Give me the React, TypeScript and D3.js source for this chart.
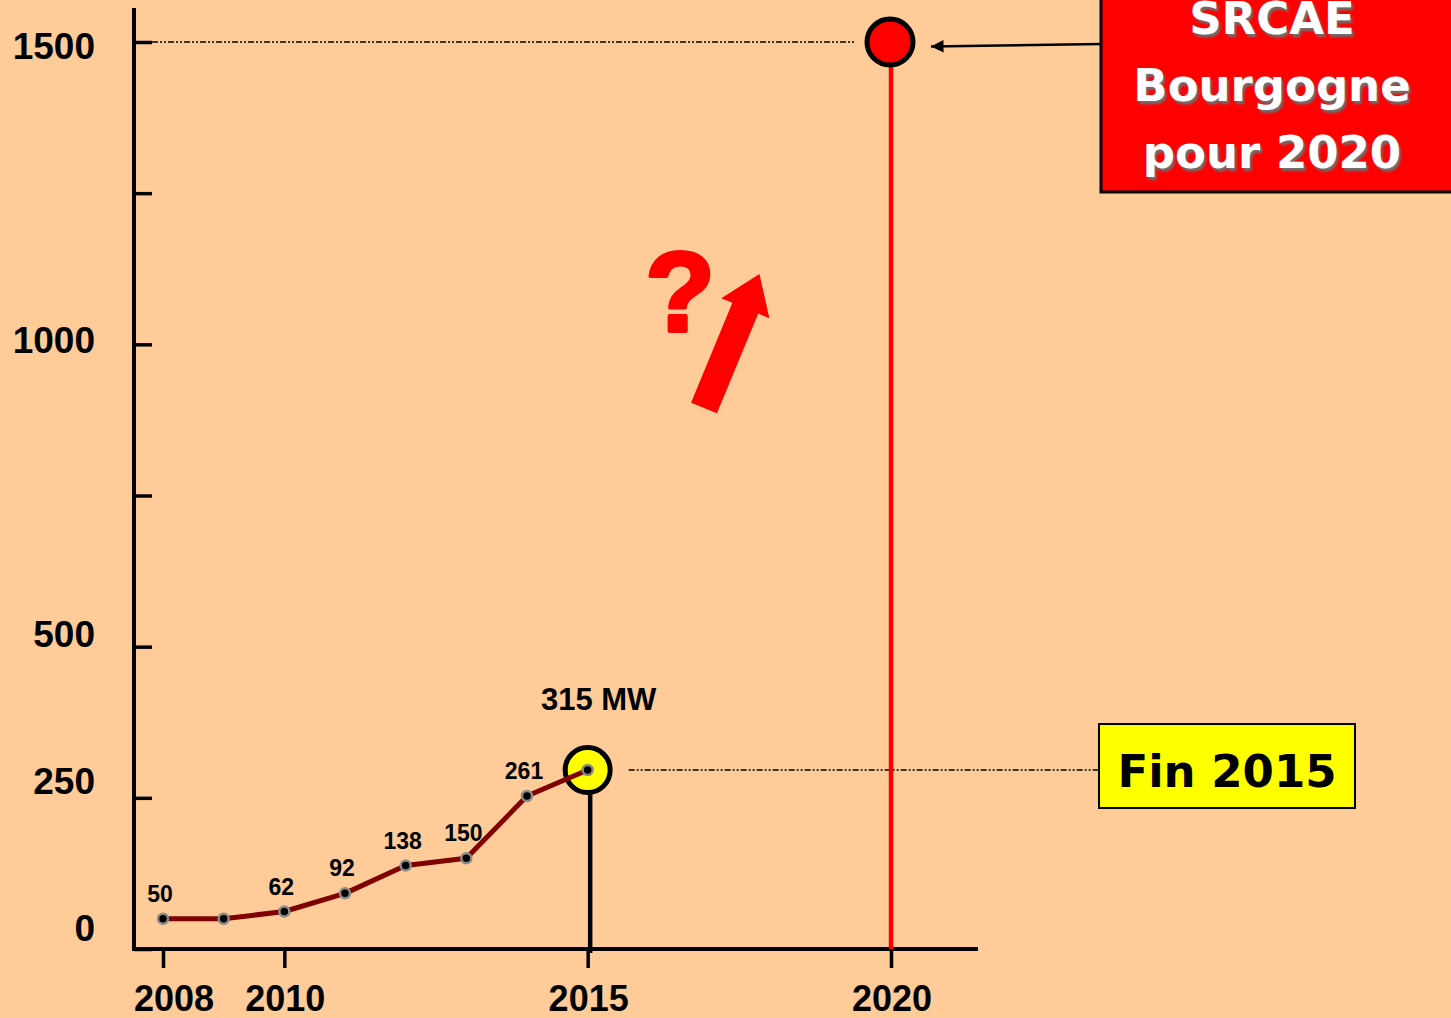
import {useEffect, useRef} from "react";
import * as d3 from 'd3';

// installed capacity (MW)
const years = [2008, 2009, 2010, 2011, 2012, 2013, 2014, 2015];
const capacity = [50, 50, 62, 92, 138, 150, 253, 296];
const pointLabels = ["50", "", "62", "92", "138", "150", "261", ""];

const yTicks = [0, 250, 500, 750, 1000, 1250, 1500];
const yLabels = [0, 250, 500, 1000, 1500];
const xTicks = [2008, 2010, 2015, 2020];

const currentYear = 2015;
const currentValue = 296;
const currentLabel = "315 MW";
const currentTag = "Fin 2015";

const targetYear = 2020;
const targetValue = 1500;
const targetLines = ["SRCAE", "Bourgogne", "pour 2020"];

const W = 1451;
const H = 1018;
const BG = '#FFCC99';
const SANS = '"Liberation Sans", Arial, sans-serif';
const WIDE = '"DejaVu Sans", Verdana, sans-serif';

export default function App() {
  const svgRef = useRef<SVGSVGElement>(null);

  useEffect(() => {
    const svg = d3.select(svgRef.current);
    svg.selectAll('*').remove();

    const axisX = 134;
    const axisY = 949;
    const axisEnd = 978;

    const x = d3.scaleLinear().domain([2008, 2020]).range([163, 891]);
    const y = d3.scaleLinear().domain([0, 1500]).range([axisY, 42]);
    // the value labels of the original sit on a slightly shifted scale
    const yLab = d3.scaleLinear().domain([0, 1500]).range([axisY - 21, 46]);

    svg.append('rect').attr('width', W).attr('height', H).attr('fill', BG);

    const defs = svg.append('defs');
    defs.append('marker')
      .attr('id', 'arrowhead')
      .attr('viewBox', '0 0 10 10')
      .attr('refX', 10).attr('refY', 5)
      .attr('markerWidth', 6).attr('markerHeight', 5)
      .attr('markerUnits', 'strokeWidth')
      .attr('orient', 'auto')
      .append('path').attr('d', 'M0,0 L10,5 L0,10 Z').attr('fill', '#000');
    defs.append('filter').attr('id', 'soft')
      .append('feGaussianBlur').attr('stdDeviation', 1);

    // guide lines (dash-dot-dot)
    svg.append('line')
      .attr('x1', axisX + 18).attr('x2', x(targetYear) - 37)
      .attr('y1', y(targetValue)).attr('y2', y(targetValue))
      .attr('stroke', '#000').attr('stroke-width', 1.3)
      .attr('stroke-dasharray', '6 2 2 2 2 2');
    svg.append('line')
      .attr('x1', x(currentYear) + 41).attr('x2', 1099)
      .attr('y1', y(currentValue)).attr('y2', y(currentValue))
      .attr('stroke', '#000').attr('stroke-width', 1.3)
      .attr('stroke-dasharray', '6 2 2 2 2 2');

    // y axis
    const yAxis = d3.axisRight(y).tickValues(yTicks).tickSize(18).tickFormat(() => '');
    const gy = svg.append('g').attr('transform', `translate(${axisX},0)`).call(yAxis);
    gy.select('.domain').remove();
    gy.selectAll('line').attr('stroke', '#000').attr('stroke-width', 3.5);
    svg.append('line')
      .attr('x1', axisX).attr('x2', axisX).attr('y1', 8).attr('y2', axisY + 2)
      .attr('stroke', '#000').attr('stroke-width', 4);
    svg.append('g').selectAll('text').data(yLabels).join('text')
      .attr('x', 95).attr('y', d => yLab(d))
      .attr('dy', '0.36em')
      .attr('text-anchor', 'end')
      .attr('font-family', SANS).attr('font-weight', 'bold').attr('font-size', 37)
      .attr('fill', '#000')
      .text(d => d);

    // x axis
    const xAxis = d3.axisBottom(x).tickValues(xTicks).tickSize(19).tickFormat(() => '');
    const gx = svg.append('g').attr('transform', `translate(0,${axisY})`).call(xAxis);
    gx.select('.domain').remove();
    gx.selectAll('line').attr('stroke', '#000').attr('stroke-width', 3.5);
    svg.append('line')
      .attr('x1', axisX - 2).attr('x2', axisEnd).attr('y1', axisY).attr('y2', axisY)
      .attr('stroke', '#000').attr('stroke-width', 4);
    svg.append('g').selectAll('text').data(xTicks).join('text')
      .attr('x', d => Math.max(x(d) + 1, axisX + 40))
      .attr('y', 1011)
      .attr('text-anchor', 'middle')
      .attr('font-family', SANS).attr('font-weight', 'bold').attr('font-size', 36)
      .attr('fill', '#000')
      .text(d => d);

    // 2020 target stem + marker
    svg.append('line')
      .attr('x1', x(targetYear)).attr('x2', x(targetYear))
      .attr('y1', y(targetValue)).attr('y2', axisY)
      .attr('stroke', '#FF0000').attr('stroke-width', 4.5);
    svg.append('circle')
      .attr('cx', x(targetYear) - 1).attr('cy', y(targetValue)).attr('r', 23)
      .attr('fill', '#FF0000').attr('stroke', '#000').attr('stroke-width', 5);

    // 2015 stem
    svg.append('line')
      .attr('x1', x(currentYear) + 2.5).attr('x2', x(currentYear) + 2.5)
      .attr('y1', y(currentValue)).attr('y2', axisY + 4)
      .attr('stroke', '#000').attr('stroke-width', 4.5);
    svg.append('circle')
      .attr('cx', x(currentYear)).attr('cy', y(currentValue)).attr('r', 22.5)
      .attr('fill', '#FFFF00').attr('stroke', '#000').attr('stroke-width', 5);

    // capacity line
    const line = d3.line<number>()
      .x((_, i) => x(years[i]))
      .y(d => y(d));
    svg.append('path')
      .datum(capacity)
      .attr('fill', 'none')
      .attr('stroke', '#800000')
      .attr('stroke-width', 5)
      .attr('stroke-linejoin', 'round')
      .attr('d', line);

    svg.append('g').selectAll('circle').data(capacity).join('circle')
      .attr('cx', (_, i) => x(years[i]))
      .attr('cy', d => y(d))
      .attr('r', 5)
      .attr('fill', '#000')
      .attr('stroke', '#8a8a8a')
      .attr('stroke-width', 2.5);

    svg.append('g').selectAll('text').data(capacity).join('text')
      .attr('x', (_, i) => x(years[i]) - 3)
      .attr('y', d => y(d) - 17)
      .attr('text-anchor', 'middle')
      .attr('font-family', SANS).attr('font-weight', 'bold').attr('font-size', 23)
      .attr('fill', '#000')
      .text((_, i) => pointLabels[i]);

    svg.append('text')
      .attr('x', x(currentYear) + 11).attr('y', y(currentValue) - 60)
      .attr('text-anchor', 'middle')
      .attr('font-family', SANS).attr('font-weight', 'bold').attr('font-size', 31)
      .attr('fill', '#000')
      .text(currentLabel);

    // "Fin 2015" tag
    const tag = svg.append('g');
    tag.append('rect')
      .attr('x', 1099).attr('y', y(currentValue) - 46)
      .attr('width', 256).attr('height', 84)
      .attr('fill', '#FFFF00').attr('stroke', '#000').attr('stroke-width', 2);
    tag.append('text')
      .attr('x', 1227).attr('y', y(currentValue) + 17)
      .attr('text-anchor', 'middle')
      .attr('font-family', WIDE).attr('font-weight', 'bold').attr('font-size', 45)
      .attr('fill', '#000')
      .text(currentTag);

    // SRCAE box
    const box = svg.append('g');
    box.append('rect')
      .attr('x', 1101).attr('y', -10)
      .attr('width', 370).attr('height', 202)
      .attr('fill', '#FF0000').attr('stroke', '#000').attr('stroke-width', 3);
    box.append('line')
      .attr('x1', 1101).attr('x2', 931)
      .attr('y1', 44).attr('y2', 46.5)
      .attr('stroke', '#000').attr('stroke-width', 2.5)
      .attr('marker-end', 'url(#arrowhead)');
    targetLines.forEach((t, i) => {
      const by = 34 + i * 67;
      box.append('text')
        .attr('x', 1274).attr('y', by + 2.5)
        .attr('text-anchor', 'middle')
        .attr('font-family', WIDE).attr('font-weight', 'bold').attr('font-size', 45)
        .attr('fill', '#6e6e6e').attr('filter', 'url(#soft)')
        .text(t);
      box.append('text')
        .attr('x', 1272).attr('y', by)
        .attr('text-anchor', 'middle')
        .attr('font-family', WIDE).attr('font-weight', 'bold').attr('font-size', 45)
        .attr('fill', '#fff')
        .text(t);
    });

    // question mark and up arrow
    svg.append('text')
      .attr('x', 680).attr('y', 331)
      .attr('text-anchor', 'middle')
      .attr('font-family', SANS).attr('font-weight', 'bold').attr('font-size', 114)
      .attr('fill', '#FF0000')
      .attr('stroke', '#FF0000').attr('stroke-width', 4)
      .attr('stroke-linejoin', 'round')
      .text('?');
    svg.append('path')
      .attr('d', 'M0,-14 L108,-14 L108,-26 L145,0 L108,26 L108,14 L0,14 Z')
      .attr('transform', 'translate(704,408) rotate(-67.5)')
      .attr('fill', '#FF0000');
  }, []);

  return (
    <div style={{position: 'absolute', left: 0, top: 0}}>
      <svg ref={svgRef} width={W} height={H} style={{display: 'block'}}></svg>
    </div>
  );
}
